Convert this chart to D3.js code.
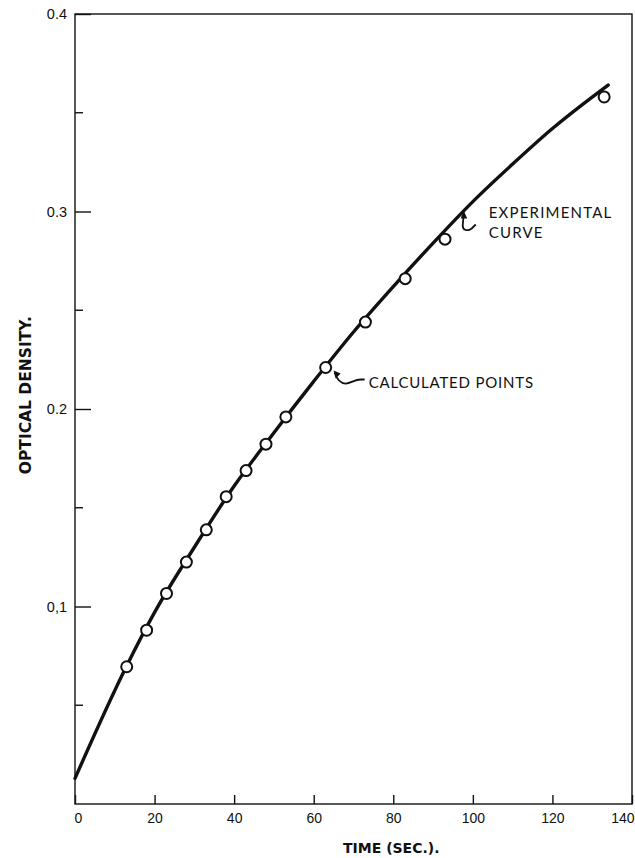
<!DOCTYPE html>
<html>
<head>
<meta charset="utf-8">
<script src="https://cdn.jsdelivr.net/npm/d3@7"></script>
<style>
  body { margin: 0; background: #fff; }
  text { fill: #111; }
</style>
</head>
<body>
<svg id="chart" width="635" height="858"></svg>
<script>
// experimental curve
const curveTime = [0, 13, 20, 30, 40, 50, 60, 70, 80, 90, 100, 110, 120, 134];
const curveDensity = [0.013, 0.070, 0.097, 0.130, 0.161, 0.188, 0.214, 0.239, 0.262, 0.284, 0.305, 0.324, 0.342, 0.364];

// calculated points
const pointTime = [13, 18, 23, 28, 33, 38, 43, 48, 53, 63, 73, 83, 93, 133];
const pointDensity = [0.0695, 0.088, 0.1066, 0.1225, 0.1388, 0.1556, 0.1688, 0.1822, 0.196, 0.221, 0.244, 0.266, 0.286, 0.358];

const xTicks = [0, 20, 40, 60, 80, 100, 120, 140];
const yTicks = [0.1, 0.2, 0.3, 0.4];
const yTickLabels = ["0,1", "0.2", "0.3", "0.4"];
const yMinorTicks = [0.05, 0.15, 0.25, 0.35];

const margin = { top: 14, right: 3, bottom: 54, left: 75 };
const W = 635, H = 858;

const svg = d3.select('#chart');

const x = d3.scaleLinear().domain([0, 140]).range([margin.left, W - margin.right]);
const y = d3.scaleLinear().domain([0, 0.4]).range([H - margin.bottom, margin.top]);

const ink = '#111';
const tickFont = '"Liberation Sans", Arial, sans-serif';
const titleFont = '"DejaVu Sans", sans-serif';
const noteFont = 'Lato, "DejaVu Sans", sans-serif';

// frame
svg.append('rect')
  .attr('x', x(0)).attr('y', y(0.4))
  .attr('width', x(140) - x(0)).attr('height', y(0) - y(0.4))
  .attr('fill', 'none').attr('stroke', ink).attr('stroke-width', 1.4);

// x axis, ticks pointing in
const xAxis = d3.axisBottom(x).tickValues(xTicks).tickSizeInner(-9).tickSizeOuter(0).tickPadding(9);
const gx = svg.append('g').attr('transform', `translate(0,${y(0)})`).call(xAxis);
gx.select('.domain').remove();
gx.selectAll('line').attr('stroke', ink).attr('stroke-width', 1.4);
gx.selectAll('text')
  .style('font-family', tickFont)
  .style('font-size', '14px')
  .attr('fill', ink)
  .attr('text-anchor', d => d == 140 ? 'end' : (d == 0 ? 'start' : 'middle'))
  .attr('dx', d => d == 140 ? 2 : (d == 0 ? -1 : 0));

// y axis major ticks
const yAxis = d3.axisLeft(y).tickValues(yTicks).tickSizeInner(-16).tickSizeOuter(0).tickPadding(8)
  .tickFormat((d, i) => yTickLabels[i]);
const gy = svg.append('g').attr('transform', `translate(${x(0)},0)`).call(yAxis);
gy.select('.domain').remove();
gy.selectAll('line').attr('stroke', ink).attr('stroke-width', 1.4);
gy.selectAll('text')
  .style('font-family', tickFont)
  .style('font-size', '14.5px')
  .attr('fill', ink);

// y minor ticks
svg.append('g').selectAll('line')
  .data(yMinorTicks).enter().append('line')
  .attr('x1', x(0)).attr('x2', x(0) + 8)
  .attr('y1', d => y(d)).attr('y2', d => y(d))
  .attr('stroke', ink).attr('stroke-width', 1.4);

// experimental curve
const curveData = curveTime.map((t, i) => [t, curveDensity[i]]);
const line = d3.line()
  .x(d => x(d[0]))
  .y(d => y(d[1]))
  .curve(d3.curveMonotoneX);

svg.append('path')
  .datum(curveData)
  .attr('d', line)
  .attr('fill', 'none')
  .attr('stroke', ink)
  .attr('stroke-width', 3.4)
  .attr('stroke-linecap', 'round');

// calculated points
const pointData = pointTime.map((t, i) => [t, pointDensity[i]]);
svg.append('g').selectAll('circle')
  .data(pointData).enter().append('circle')
  .attr('cx', d => x(d[0]))
  .attr('cy', d => y(d[1]))
  .attr('r', 5.5)
  .attr('fill', '#fff')
  .attr('stroke', ink)
  .attr('stroke-width', 2);

// "CALCULATED POINTS" with curly arrow to the t=63 point
const calc = [pointTime[9], pointDensity[9]];
const cx0 = x(calc[0]) + 9, cy0 = y(calc[1]) + 5;
const calcArrow = svg.append('g').attr('transform', `translate(${cx0},${cy0})`);
calcArrow.append('path')
  .attr('d', 'M0,0 C2,6 5,11 11,11 C16,11 20,7 26,7 L30,7')
  .attr('fill', 'none').attr('stroke', ink).attr('stroke-width', 1.8);
calcArrow.append('path')
  .attr('d', 'M-1,-2 L6,1 L1,6 Z')
  .attr('fill', ink);
svg.append('text')
  .attr('x', cx0 + 34).attr('y', cy0 + 15)
  .style('font-family', noteFont)
  .style('font-size', '15px')
  .style('letter-spacing', '0.8px')
  .text('CALCULATED POINTS');

// "EXPERIMENTAL CURVE" with hooked arrow up to the curve
const ex = x(97.7), ey = y(0.3);
const expArrow = svg.append('g').attr('transform', `translate(${ex},${ey})`);
expArrow.append('path')
  .attr('d', 'M0,3 L-1,14 C-1,19 4,20 8,17 L12,13')
  .attr('fill', 'none').attr('stroke', ink).attr('stroke-width', 1.8);
expArrow.append('path')
  .attr('d', 'M0,-1 L3.5,7 L-3,7 Z')
  .attr('fill', ink);
const expText = svg.append('text')
  .style('font-family', noteFont)
  .style('font-size', '15px')
  .style('letter-spacing', '1.2px');
expText.append('tspan').attr('x', ex + 25).attr('y', ey + 6).text('EXPERIMENTAL');
expText.append('tspan').attr('x', ex + 25).attr('y', ey + 26).text('CURVE');

// axis titles
svg.append('text')
  .attr('x', 343).attr('y', H - 5)
  .style('font-family', titleFont)
  .style('font-weight', 'bold')
  .style('font-size', '14px')
  .text('TIME (SEC.).');

svg.append('text')
  .attr('transform', `translate(31,${y(0.207)}) rotate(-90)`)
  .attr('text-anchor', 'middle')
  .style('font-family', titleFont)
  .style('font-weight', 'bold')
  .style('font-size', '15.5px')
  .text('OPTICAL DENSITY.');
</script>
</body>
</html>
